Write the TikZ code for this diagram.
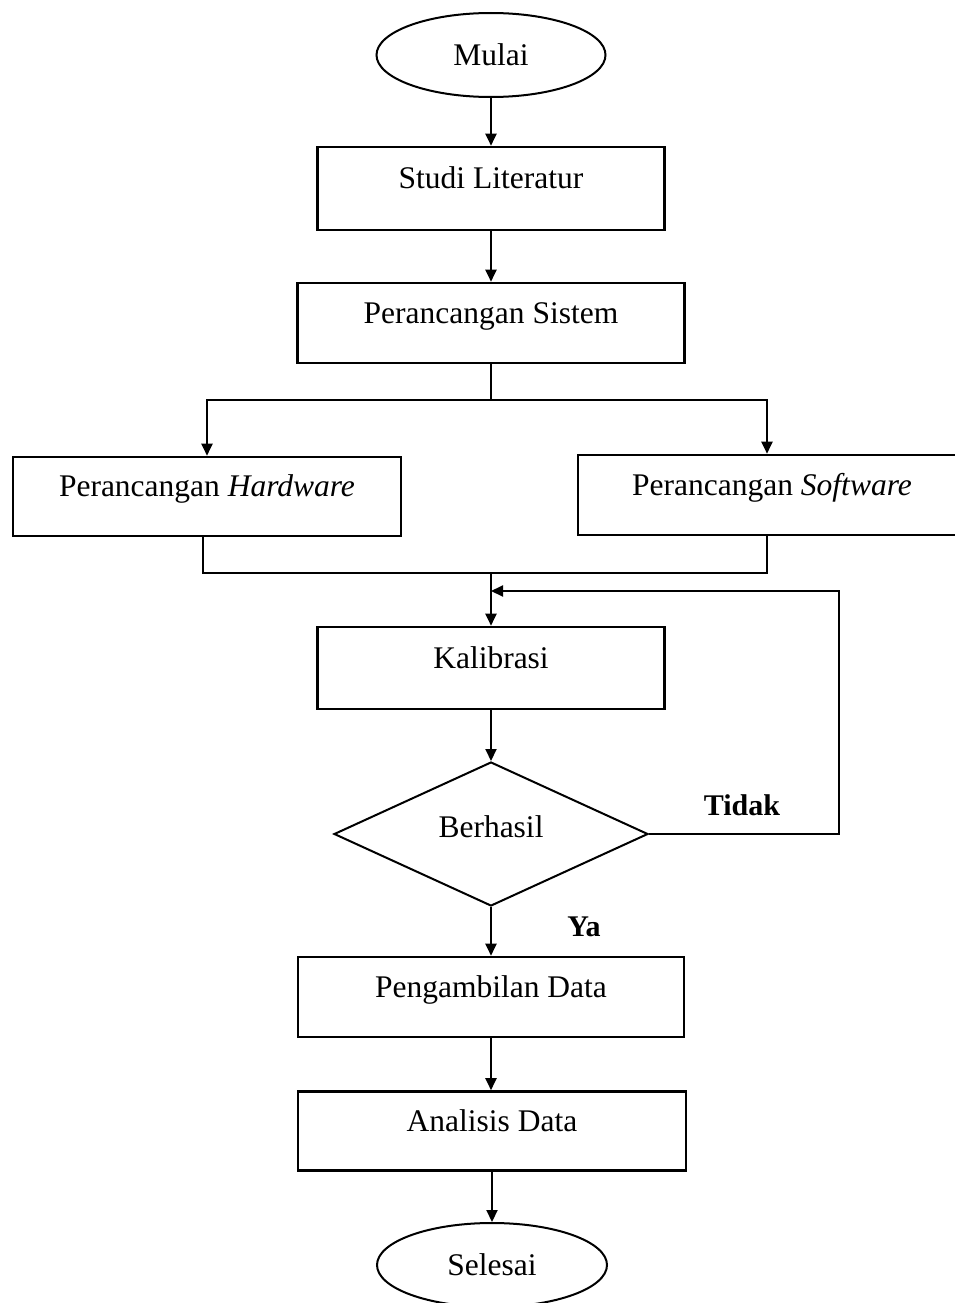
\documentclass[tikz,border=0pt]{standalone}
\usepackage{fontspec}
\setmainfont{Liberation Serif}
\usetikzlibrary{arrows.meta,shapes.geometric}
\tikzset{
  base/.style={font=\fontsize{31.5}{36}\selectfont, inner sep=0pt},
  stepbox/.style={base, draw, line width=2.6pt, rectangle, text height=22pt, text depth=22pt},
  term/.style={base, draw, line width=2pt, ellipse},
  decision/.style={base, draw, line width=2pt, diamond, aspect=2.18, text height=22pt, text depth=16pt},
  ln/.style={line width=2pt},
  arr/.style={line width=2pt, -{Triangle[length=12pt,width=11pt]}},
  lbl/.style={font=\fontsize{30}{34}\selectfont\bfseries, inner sep=0pt}
}
\begin{document}
\begin{tikzpicture}[x=1pt,y=-1pt]
\useasboundingbox (0,0) rectangle (955,1303);
\node[term, minimum width=229pt, minimum height=84pt] (mulai) at (491,55) {Mulai};
\node[stepbox, minimum width=347pt, minimum height=83pt] (studi) at (491,188.5) {Studi Literatur};
\node[stepbox, minimum width=387pt, minimum height=80pt] (sistem) at (491,323) {Perancangan Sistem};
\node[stepbox, minimum width=388pt, minimum height=79pt] (hw) at (207,496.5) {Perancangan \textit{Hardware}};
\node[stepbox, minimum width=388pt, minimum height=80pt] (sw) at (772,495) {Perancangan \textit{Software}};
\node[stepbox, minimum width=347pt, minimum height=82pt] (kal) at (491,668) {Kalibrasi};
\node[decision, minimum width=314pt, minimum height=144pt] (dec) at (491,834) {Berhasil};
\node[stepbox, minimum width=386pt, minimum height=80pt] (peng) at (491,997) {Pengambilan Data};
\node[stepbox, minimum width=388pt, minimum height=79pt] (anal) at (492,1131) {Analisis Data};
\node[term, minimum width=230pt, minimum height=84pt] (selesai) at (492,1265) {Selesai};
\node[lbl] (tidak) at (742,805) {Tidak};
\node[lbl] (ya) at (584,927) {Ya};
\coordinate (split) at (491,400);
\coordinate (merge) at (491,573);
\coordinate (loopin) at (491,591);
\draw[arr] (mulai.south) -- (studi.north);
\draw[arr] (studi.south) -- (sistem.north);
\draw[ln] (sistem.south) -- (split);
\draw[arr] (split) -| (hw.north);
\draw[arr] (split) -| ([xshift=-5pt]sw.north);
\draw[ln] ([xshift=-4pt]hw.south) |- (merge);
\draw[ln] ([xshift=-5pt]sw.south) |- (merge);
\draw[arr] (merge) -- (kal.north);
\draw[arr] (kal.south) -- (dec.north);
\draw[arr] (dec.east) -- ++(190,0) |- (loopin);
\draw[arr] (dec.south) -- (peng.north);
\draw[arr] (peng.south) -- (anal.north -| peng.south);
\draw[arr] (anal.south) -- (selesai.north);
\end{tikzpicture}
\end{document}
